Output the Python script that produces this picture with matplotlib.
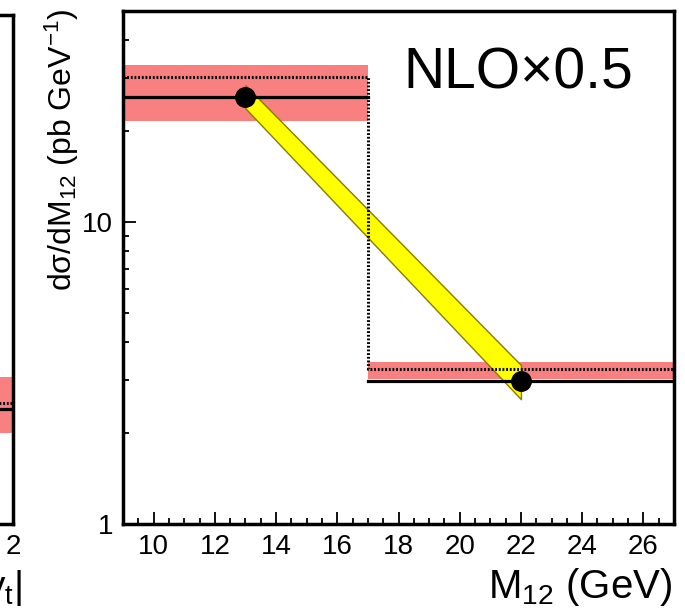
import numpy as np
import matplotlib
matplotlib.use("Agg")
import matplotlib.pyplot as plt

plt.rcParams['font.family'] = ['Liberation Sans', 'DejaVu Sans']
plt.rcParams['mathtext.fontset'] = 'custom'
plt.rcParams['mathtext.rm'] = 'Liberation Sans'
plt.rcParams['mathtext.it'] = 'Liberation Sans'
plt.rcParams['mathtext.default'] = 'regular'

# histogram bins (GeV)
bin_edges = [9, 17, 27]
# theory band (NLO x 0.5) per bin
band_lo = [21.6, 3.02]
band_hi = [33.1, 3.44]
nlo_central = [25.9, 2.97]
nlo_dotted = [30.2, 3.26]
# data points
pt_x = [13, 22]
pt_y = [25.9, 2.97]
pt_err = [0.6, 0.15]
# yellow band between the points
yb_x = [13, 22]
yb_lo = [23.8, 2.59]
yb_hi = [28.4, 3.36]

# left (cut) panel
left_band = [2.0, 3.07]
left_solid = 2.40
left_dotted = 2.52

W, H = 685, 608
fig = plt.figure(figsize=(W / 100, H / 100), dpi=100)

red = '#f88080'

#main panel
ax = fig.add_axes([123 / W, 1 - 524 / H, (674 - 123) / W, (524 - 11) / H])
ax.set_yscale('log')
ax.set_xlim(9, 27)
ax.set_ylim(1, 50)

for i in range(len(bin_edges) - 1):
    x0, x1 = bin_edges[i], bin_edges[i + 1]
    ax.fill_between([x0, x1], band_lo[i], band_hi[i], color=red, lw=0, zorder=1)

ax.fill_between(yb_x, yb_lo, yb_hi, facecolor='#ffff00', edgecolor='#8a7a00', lw=1, zorder=2)

for i in range(len(bin_edges) - 1):
    x0, x1 = bin_edges[i], bin_edges[i + 1]
    ax.plot([x0, x1], [nlo_central[i]] * 2, color='black', lw=2.3, zorder=3)

ax.step(bin_edges, nlo_dotted + [nlo_dotted[-1]], where='post', color='black',
        lw=2.2, linestyle=(0, (0.6, 0.6)), zorder=3)

ax.errorbar(pt_x, pt_y, yerr=pt_err, fmt='o', color='black', ms=14, elinewidth=2, capsize=0, zorder=5)

ax.text(0.925, 0.93, 'NLO×0.5', transform=ax.transAxes, fontsize=41, ha='right', va='top')

ax.set_xticks(np.arange(10, 27, 2))
ax.set_xticks(np.arange(9, 27.01, 0.5), minor=True)
ax.set_yticks([1, 10])
ax.set_yticklabels(['1', '10'])
ax.tick_params(which='both', direction='in', top=False, right=False, labelsize=20, width=1.3)
ax.tick_params(which='major', length=9, pad=7)
ax.tick_params(which='minor', length=4.5)
ax.yaxis.set_minor_formatter(matplotlib.ticker.NullFormatter())
for s in ax.spines.values():
    s.set_linewidth(2.5)

fig.text(672 / W, 1 - 598 / H, 'M$_{12}$ (GeV)', fontsize=29, ha='right', va='baseline')
fig.text(62 / W, 1 - 150 / H, 'dσ/dM$_{12}$ (pb GeV$^{-1}$)', fontsize=23,
         rotation=90, ha='center', va='center')

#left panel, mostly off the canvas
ax2 = fig.add_axes([-0.4, 1 - 524 / H, 0.4 + 13 / W, (524 - 15) / H])
ax2.set_yscale('log')
ax2.set_xlim(0, 2)
ax2.set_ylim(1, 48.5)
ax2.fill_between([0, 2], left_band[0], left_band[1], color=red, lw=0)
ax2.plot([0, 2], [left_solid] * 2, color='black', lw=2.3)
ax2.plot([0, 2], [left_dotted] * 2, color='black', lw=2.2, linestyle=(0, (0.6, 0.6)))
ax2.set_xticks([2])
ax2.set_xticklabels(['2'])
ax2.set_yticks([])
ax2.yaxis.set_minor_locator(matplotlib.ticker.NullLocator())
ax2.tick_params(direction='in', labelsize=20, length=0, pad=7)
for s in ax2.spines.values():
    s.set_linewidth(2.5)
fig.text(22 / W, 1 - 598 / H, '|y$_{t}$|', fontsize=28, ha='right', va='baseline')

fig.savefig('out.png', dpi=100)
